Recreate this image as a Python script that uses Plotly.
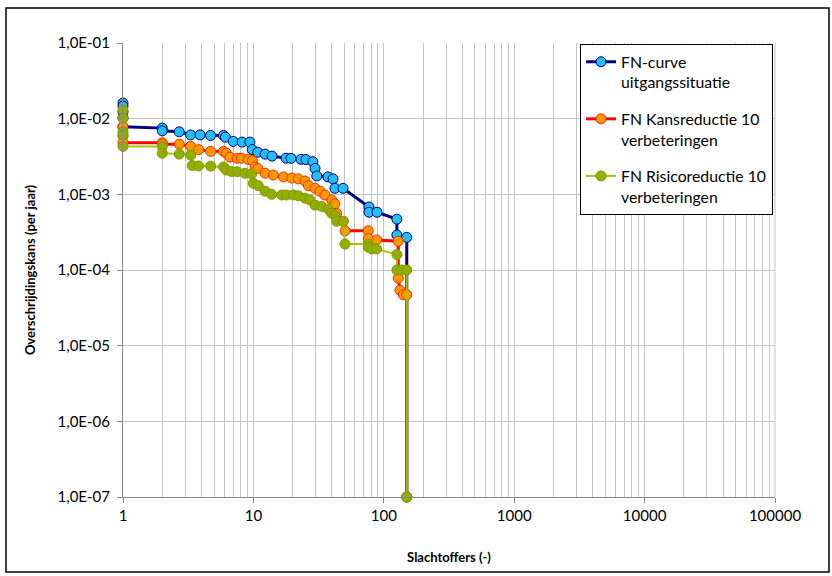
import plotly.graph_objects as go

# FN-curve: exceedance frequency per year versus number of casualties
n_base = [1, 1, 1, 1, 1, 2, 2, 2.7, 3.3, 3.9, 4.7, 5.9, 6.1, 7.0, 8.2, 9.4, 9.8,
          10.8, 12.3, 13.9, 17.8, 19.4, 23.2, 25.3, 28.6, 29.7, 30.6, 37.3, 40.8,
          42.2, 48.7, 77, 77, 88.7, 126, 126, 150, 150]
f_base = [0.0161, 0.0147, 0.0123, 0.0102, 0.0078, 0.0075, 0.0069, 0.0067, 0.0061,
          0.0061, 0.0060, 0.0060, 0.0057, 0.0050, 0.0049, 0.0049, 0.0039, 0.0036,
          0.0034, 0.0032, 0.0030, 0.00299, 0.0029, 0.00288, 0.0027, 0.0022, 0.00175,
          0.0017, 0.0016, 0.0012, 0.0012, 0.00068, 0.00058, 0.00058, 0.00047,
          0.00029, 0.00027, 1e-7]

# Probability reduction, 10 improvements
n_kans = [1, 1, 1, 2, 2, 2.7, 3.3, 3.8, 4.7, 5.9, 6.2, 6.6, 7.5, 8.1, 9.1, 9.8,
          10.3, 10.8, 12.3, 14.2, 17.0, 19.7, 22.1, 24.9, 26.4, 29.7, 32.4, 35.4,
          39.9, 42.2, 43.5, 48.9, 50.4, 76, 76, 88, 129, 129, 129, 133, 141, 150, 150]
f_kans = [0.0078, 0.0059, 0.0048, 0.0048, 0.0046, 0.0046, 0.0043, 0.0039, 0.0037,
          0.0037, 0.0035, 0.0031, 0.0030, 0.0030, 0.0029, 0.0028, 0.0023, 0.0022,
          0.0019, 0.0018, 0.0017, 0.00164, 0.0016, 0.0015, 0.0013, 0.0012, 0.0011,
          0.00098, 0.00084, 0.00075, 0.00056, 0.00044, 0.00033, 0.00033, 0.00026,
          0.00025, 0.00024, 0.00010, 7.8e-5, 5.4e-5, 4.7e-5, 4.7e-5, 1e-7]

# Risk reduction, 10 improvements
n_risico = [1, 1, 1, 1, 1, 2, 2, 2.7, 3.3, 3.4, 3.8, 4.7, 5.9, 6.2, 6.8, 7.5, 8.6,
            9.7, 10.0, 10.9, 12.3, 13.8, 16.5, 18, 20.2, 22.1, 24.9, 27.2, 29.7,
            33.4, 37.5, 39.9, 42.2, 43.5, 48.9, 50.4, 76, 76, 81, 88, 126, 126,
            137, 150, 150]
f_risico = [0.0130, 0.0101, 0.0067, 0.0061, 0.0043, 0.0043, 0.0035, 0.0034, 0.0033,
            0.0024, 0.00237, 0.00236, 0.0023, 0.0021, 0.0020, 0.00199, 0.0019,
            0.00186, 0.0014, 0.0013, 0.0011, 0.0010, 0.00098, 0.00098, 0.00098,
            0.00096, 0.00089, 0.00084, 0.00072, 0.00069, 0.00064, 0.00056, 0.00053,
            0.00044, 0.00044, 0.00022, 0.00022, 0.00020, 0.00019, 0.00019, 0.00016,
            0.00010, 0.00010, 0.00010, 1e-7]

series_names = ["FN-curve<br>uitgangssituatie",
                "FN Kansreductie 10<br>verbeteringen",
                "FN Risicoreductie 10<br>verbeteringen"]

x_tickvals = [1, 10, 100, 1000, 10000, 100000]
x_ticktext = ["1", "10", "100", "1000", "10000", "100000"]
y_tickvals = [1e-7, 1e-6, 1e-5, 1e-4, 1e-3, 1e-2, 1e-1]
y_ticktext = ["1,0E-07", "1,0E-06", "1,0E-05", "1,0E-04", "1,0E-03", "1,0E-02", "1,0E-01"]

FONT = "Lato, 'Open Sans', sans-serif"
GRID = "#c4c4c4"
AXIS = "#868686"

styles = [
    dict(line="#000080", width=3, fill="#22C0F2", edge="#000080"),
    dict(line="#FF0000", width=3, fill="#FF9900", edge="#FF2A00"),
    dict(line="#99CC00", width=2, fill="#94AE00", edge="#7F9A00"),
]

fig = go.Figure()
for i, (n, f) in enumerate([(n_base, f_base), (n_kans, f_kans), (n_risico, f_risico)]):
    s = styles[i]
    fig.add_trace(go.Scatter(
        x=n, y=f, mode="lines+markers", name=series_names[i],
        legendgroup=f"g{i}",
        line=dict(color=s["line"], width=s["width"]),
        marker=dict(size=10, color=s["fill"], line=dict(color=s["edge"], width=1)),
        cliponaxis=False,
    ))

# minor vertical grid at 2..9 of every decade
minor_x = [m * 10 ** d for d in range(5) for m in range(2, 10)]

W, H = 832, 576
L, R, T, B = 123, 57, 43, 79
pw, ph = W - L - R, H - T - B


def px_x(p):
    return (p - L) / pw


def px_y(p):
    return (H - B - p) / ph


fig.update_layout(
    width=W, height=H, autosize=False,
    margin=dict(l=L, r=R, t=T, b=B, pad=0),
    paper_bgcolor="white", plot_bgcolor="white",
    font=dict(family=FONT, size=13, color="black"),
    showlegend=True,
    legend=dict(
        x=px_x(580), y=px_y(44), xanchor="left", yanchor="top",
        bgcolor="white", bordercolor="black", borderwidth=1,
        font=dict(family=FONT, size=15.8, color="black"),
        valign="top", tracegroupgap=13, itemwidth=30,
        traceorder="grouped",
    ),
    xaxis=dict(
        type="log", range=[0, 5],
        tickmode="array", tickvals=x_tickvals, ticktext=x_ticktext,
        ticks="outside", ticklen=5, tickcolor=AXIS,
        showline=True, linecolor=AXIS, linewidth=1,
        showgrid=True, gridcolor=GRID, gridwidth=1,
        minor=dict(tickmode="array", tickvals=minor_x, showgrid=True,
                   gridcolor=GRID, gridwidth=1, ticks=""),
        zeroline=False,
        tickfont=dict(family=FONT, size=15),
        title=dict(text="<b>Slachtoffers (-)</b>", font=dict(family=FONT, size=13),
                   standoff=29),
    ),
    yaxis=dict(
        type="log", range=[-7, -1],
        tickmode="array", tickvals=y_tickvals, ticktext=y_ticktext,
        ticks="outside", ticklen=5, tickcolor=AXIS,
        showline=True, linecolor=AXIS, linewidth=1,
        showgrid=True, gridcolor=GRID, gridwidth=1,
        zeroline=False,
        tickfont=dict(family=FONT, size=15),
        ticklabelstandoff=4,
        title=dict(text="<b>Overschrijdingskans (per jaar)</b>",
                   font=dict(family=FONT, size=13), standoff=18),
    ),
    shapes=[
        # right frame of the plotting area
        dict(type="line", xref="paper", yref="paper", x0=1, x1=1, y0=0, y1=1,
             line=dict(color=GRID, width=1), layer="below"),
        # outer chart border
        dict(type="rect", xref="paper", yref="paper",
             x0=px_x(6), x1=px_x(829), y0=px_y(572), y1=px_y(8),
             line=dict(color="black", width=1.5), fillcolor="rgba(0,0,0,0)"),
    ],
)

fig.write_html("out.html")
